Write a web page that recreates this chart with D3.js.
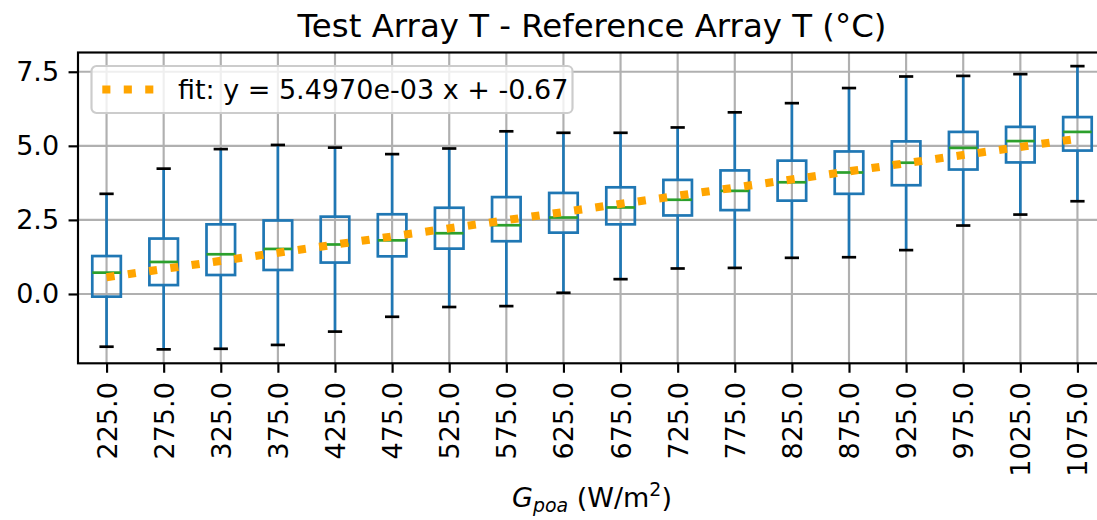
<!DOCTYPE html>
<html>
<head>
<meta charset="utf-8">
<script src="https://cdn.jsdelivr.net/npm/d3@7"></script>
<style>
  body { margin: 0; background: #fff; }
  svg text { font-family: "DejaVu Sans", sans-serif; }
</style>
</head>
<body>
<svg id="canvas"></svg>
<script>
// irradiance bins (W/m2)
const gValues = [225, 275, 325, 375, 425, 475, 525, 575, 625, 675, 725, 775, 825, 875, 925, 975, 1025, 1075];
const whiskerLow = [-1.78, -1.87, -1.85, -1.72, -1.27, -0.77, -0.44, -0.41, 0.04, 0.5, 0.86, 0.88, 1.22, 1.24, 1.48, 2.31, 2.68, 3.13];
const q1 = [-0.09, 0.3, 0.64, 0.81, 1.06, 1.27, 1.53, 1.78, 2.07, 2.35, 2.65, 2.83, 3.15, 3.38, 3.67, 4.2, 4.44, 4.84];
const medians = [0.72, 1.08, 1.34, 1.52, 1.67, 1.81, 2.05, 2.32, 2.58, 2.92, 3.18, 3.48, 3.77, 4.1, 4.43, 4.93, 5.16, 5.47];
const q3 = [1.28, 1.87, 2.35, 2.48, 2.61, 2.69, 2.91, 3.27, 3.41, 3.6, 3.85, 4.17, 4.5, 4.81, 5.15, 5.47, 5.64, 5.97];
const whiskerHigh = [3.38, 4.23, 4.89, 5.03, 4.94, 4.72, 4.91, 5.49, 5.44, 5.44, 5.62, 6.13, 6.44, 6.95, 7.34, 7.36, 7.42, 7.69];
const yTicks = [0, 2.5, 5, 7.5];
const fitSlope = 5.497e-3;
const fitIntercept = -0.67;
const fitLabel = "fit: y = 5.4970e-03 x + -0.67";

const width = 1097;
const height = 520;
const plotLeft = 78, plotRight = 1106, plotTop = 52.5, plotBottom = 363.3;
const pt = 2.7;
const fontSize = 10 * pt;

const svg = d3.select("#canvas").attr("width", width).attr("height", height);

const x = d3.scaleLinear().domain([200, 1100]).range([plotLeft, plotRight]);
const y = d3.scaleLinear().domain([-2.34, 8.15]).range([plotBottom, plotTop]);
const step = x(275) - x(225);
const boxW = step * 0.5;

// grid
svg.append("g")
  .selectAll("line")
  .data(gValues)
  .enter()
  .append("line")
  .attr("x1", (d) => x(d)).attr("x2", (d) => x(d))
  .attr("y1", plotTop).attr("y2", plotBottom)
  .attr("stroke", "#b0b0b0").attr("stroke-width", 0.8 * pt);
svg.append("g")
  .selectAll("line")
  .data(yTicks)
  .enter()
  .append("line")
  .attr("x1", plotLeft).attr("x2", plotRight)
  .attr("y1", (d) => y(d)).attr("y2", (d) => y(d))
  .attr("stroke", "#b0b0b0").attr("stroke-width", 0.8 * pt);

// boxes
const boxes = svg.append("g")
  .selectAll("g")
  .data(gValues)
  .enter()
  .append("g");

boxes.append("line")
  .attr("x1", (d) => x(d)).attr("x2", (d) => x(d))
  .attr("y1", (d, i) => y(q1[i])).attr("y2", (d, i) => y(whiskerLow[i]))
  .attr("stroke", "#1f77b4").attr("stroke-width", pt);
boxes.append("line")
  .attr("x1", (d) => x(d)).attr("x2", (d) => x(d))
  .attr("y1", (d, i) => y(q3[i])).attr("y2", (d, i) => y(whiskerHigh[i]))
  .attr("stroke", "#1f77b4").attr("stroke-width", pt);
boxes.append("line")
  .attr("x1", (d) => x(d) - boxW / 4).attr("x2", (d) => x(d) + boxW / 4)
  .attr("y1", (d, i) => y(whiskerLow[i])).attr("y2", (d, i) => y(whiskerLow[i]))
  .attr("stroke", "#000").attr("stroke-width", pt);
boxes.append("line")
  .attr("x1", (d) => x(d) - boxW / 4).attr("x2", (d) => x(d) + boxW / 4)
  .attr("y1", (d, i) => y(whiskerHigh[i])).attr("y2", (d, i) => y(whiskerHigh[i]))
  .attr("stroke", "#000").attr("stroke-width", pt);
boxes.append("rect")
  .attr("x", (d) => x(d) - boxW / 2)
  .attr("y", (d, i) => y(q3[i]))
  .attr("width", boxW)
  .attr("height", (d, i) => y(q1[i]) - y(q3[i]))
  .attr("fill", "none")
  .attr("stroke", "#1f77b4").attr("stroke-width", pt);
boxes.append("line")
  .attr("x1", (d) => x(d) - boxW / 2).attr("x2", (d) => x(d) + boxW / 2)
  .attr("y1", (d, i) => y(medians[i])).attr("y2", (d, i) => y(medians[i]))
  .attr("stroke", "#2ca02c").attr("stroke-width", pt);

// fit line
const fitEnds = [gValues[0], gValues[gValues.length - 1]];
const fitLine = d3.line()
  .x((d) => x(d))
  .y((d) => y(fitSlope * d + fitIntercept));
svg.append("path")
  .datum(fitEnds)
  .attr("d", fitLine)
  .attr("fill", "none")
  .attr("stroke", "orange")
  .attr("stroke-width", 3 * pt)
  .attr("stroke-dasharray", 3 * pt + "," + 1.65 * 3 * pt);

// spines
svg.append("rect")
  .attr("x", plotLeft).attr("y", plotTop)
  .attr("width", plotRight - plotLeft).attr("height", plotBottom - plotTop)
  .attr("fill", "none").attr("stroke", "#000").attr("stroke-width", 0.8 * pt);

// axes
const yAxis = svg.append("g")
  .attr("transform", "translate(" + plotLeft + ",0)")
  .call(d3.axisLeft(y).tickValues(yTicks).tickFormat(d3.format(".1f")).tickSize(3.5 * pt).tickPadding(3.5 * pt));
yAxis.select(".domain").remove();
yAxis.selectAll("line").attr("stroke", "#000").attr("stroke-width", 0.8 * pt);
yAxis.selectAll("text").style("font-size", fontSize + "px").style("font-family", "DejaVu Sans").attr("fill", "#000");

const xAxis = svg.append("g")
  .attr("transform", "translate(0," + plotBottom + ")")
  .call(d3.axisBottom(x).tickValues(gValues).tickFormat(d3.format(".1f")).tickSize(3.5 * pt));
xAxis.select(".domain").remove();
xAxis.selectAll("line").attr("stroke", "#000").attr("stroke-width", 0.8 * pt);
xAxis.selectAll("text")
  .style("font-size", fontSize + "px")
  .style("font-family", "DejaVu Sans")
  .attr("fill", "#000")
  .attr("transform", "rotate(-90)")
  .attr("x", -7 * pt)
  .attr("y", 0)
  .attr("dy", "0.35em")
  .style("text-anchor", "end");

// title
svg.append("text")
  .attr("x", (plotLeft + plotRight) / 2)
  .attr("y", 37)
  .attr("text-anchor", "middle")
  .style("font-size", 12 * pt + "px")
  .text("Test Array T - Reference Array T (°C)");

// x label
const xLabel = svg.append("text")
  .attr("x", (plotLeft + plotRight) / 2)
  .attr("y", 507)
  .attr("text-anchor", "middle")
  .style("font-size", fontSize + "px");
xLabel.append("tspan").style("font-style", "italic").text("G");
xLabel.append("tspan").style("font-style", "italic").style("font-size", fontSize * 0.7 + "px").attr("dy", 5).text("poa");
xLabel.append("tspan").attr("dy", -5).text(" (W/m");
xLabel.append("tspan").style("font-size", fontSize * 0.7 + "px").attr("dy", -11).text("2");
xLabel.append("tspan").attr("dy", 11).text(")");

// legend
const legendX = plotLeft + 0.5 * fontSize;
const legendY = plotTop + 0.5 * fontSize;
const legend = svg.append("g").attr("transform", "translate(" + legendX + "," + legendY + ")");
legend.append("rect")
  .attr("width", 481).attr("height", 47).attr("rx", 5)
  .attr("fill", "#fff").attr("fill-opacity", 0.8)
  .attr("stroke", "#cccccc").attr("stroke-width", 0.8 * pt);
legend.append("line")
  .attr("x1", 0.4 * fontSize).attr("x2", 0.4 * fontSize + 2 * fontSize)
  .attr("y1", 23.5).attr("y2", 23.5)
  .attr("stroke", "orange")
  .attr("stroke-width", 3 * pt)
  .attr("stroke-dasharray", 3 * pt + "," + 1.65 * 3 * pt);
legend.append("text")
  .attr("x", 0.4 * fontSize + 2.8 * fontSize)
  .attr("y", 23.5)
  .attr("dy", "0.35em")
  .style("font-size", fontSize + "px")
  .text(fitLabel);
</script>
</body>
</html>
